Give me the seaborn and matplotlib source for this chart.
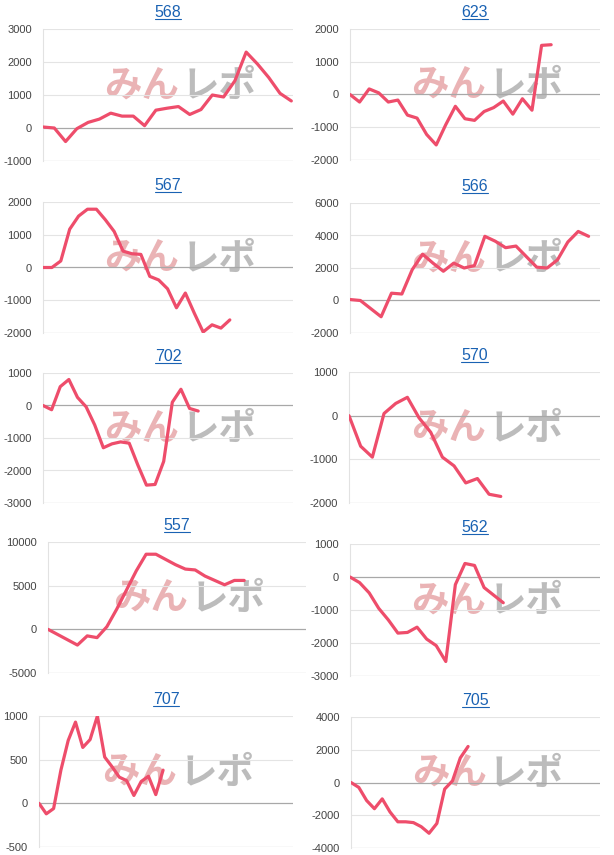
import matplotlib
matplotlib.use("Agg")
import matplotlib.pyplot as plt
import seaborn as sns
import pandas as pd
import numpy as np
from matplotlib.lines import Line2D

sns.set_style("white")
plt.rcParams['font.family'] = ['Liberation Sans', 'DejaVu Sans']

# ---- data ----
titles = ["568", "623", "567", "566", "702", "570", "557", "562", "707", "705"]

s568 = [30, 0, -410, -20, 170, 270, 450, 360, 360, 70, 540, 600, 650, 410, 560, 1000, 940, 1430, 2300, 1940, 1530, 1050, 820]
s623 = [0, -230, 170, 50, -230, -170, -630, -720, -1220, -1540, -920, -360, -740, -790, -520, -400, -200, -600, -130, -480, 1500, 1520]
s567 = [0, 0, 200, 1170, 1570, 1780, 1780, 1460, 1100, 500, 420, 400, -270, -380, -650, -1230, -780, -1390, -1970, -1750, -1850, -1600]
s566 = [60, 0, -500, -1000, 450, 400, 1900, 2850, 2300, 1800, 2300, 2000, 2150, 3950, 3650, 3250, 3350, 2700, 2050, 2000, 2500, 3600, 4250, 3950]
s702 = [0, -130, 580, 800, 250, -40, -600, -1300, -1180, -1120, -1160, -1830, -2450, -2430, -1720, 100, 500, -90, -170]
s570 = [0, -700, -950, 50, 280, 420, -50, -380, -950, -1150, -1540, -1440, -1800, -1850]
s557 = [0, -600, -1200, -1800, -750, -950, 300, 2300, 4500, 6700, 8600, 8600, 8000, 7400, 6900, 6800, 6100, 5600, 5100, 5600, 5600]
s562 = [0, -170, -480, -950, -1300, -1700, -1680, -1520, -1880, -2080, -2560, -230, 410, 350, -320, -550, -780]
s707 = [0, -120, -60, 380, 720, 930, 640, 730, 1000, 530, 420, 300, 260, 90, 250, 310, 100, 380]
s705 = [0, -300, -1100, -1600, -1000, -1800, -2400, -2400, -2450, -2700, -3100, -2500, -400, 100, 1500, 2200]

series = [s568, s623, s567, s566, s702, s570, s557, s562, s707, s705]
y_ticks = [
    [-1000, 0, 1000, 2000, 3000],
    [-2000, -1000, 0, 1000, 2000],
    [-2000, -1000, 0, 1000, 2000],
    [-2000, 0, 2000, 4000, 6000],
    [-3000, -2000, -1000, 0, 1000],
    [-2000, -1000, 0, 1000],
    [-5000, 0, 5000, 10000],
    [-3000, -2000, -1000, 0, 1000],
    [-500, 0, 500, 1000],
    [-4000, -2000, 0, 2000, 4000],
]
x_max = [22.15, 26.1, 28.1, 24.1, 29.0, 21.5, 26.3, 26.1, 34.8, 31.9]

# ---- layout (pixel boxes: left, top, right, bottom) ----
W, H = 614, 855
boxes = [
    (43, 29, 293, 161), (350, 29, 600, 160),
    (43, 202, 293, 333), (350, 203, 600, 333),
    (43, 373, 293, 503), (349, 372, 600, 503),
    (48, 542, 306, 673), (350, 544, 600, 676),
    (39, 716, 293, 847), (351, 717, 600, 848),
]

LINE = "#ee4d6b"
TITLE_C = "#1a62b3"
CJK = ["Noto Sans CJK JP", "DejaVu Sans"]

fig = plt.figure(figsize=(W / 100, H / 100), dpi=100)
title_objs = []
for i, (t, s, yt, xm, b) in enumerate(zip(titles, series, y_ticks, x_max, boxes)):
    l, tp, r, bt = b
    ax = fig.add_axes([l / W, 1 - bt / H, (r - l) / W, (bt - tp) / H])
    df = pd.DataFrame({"x": np.arange(len(s)), "y": s})
    sns.lineplot(data=df, x="x", y="y", ax=ax, color=LINE, linewidth=2.3, zorder=3)
    ax.set_xlim(0, xm)
    ax.set_ylim(yt[0], yt[-1])
    ax.set_yticks(yt)
    ax.set_yticklabels([str(v) for v in yt])
    ax.set_xticks([])
    ax.set_xlabel("")
    ax.set_ylabel("")
    ax.tick_params(axis="y", length=0, pad=8, labelsize=8, labelcolor="#444444")
    for v in yt:
        if v == 0:
            ax.axhline(v, color="#a8a8a8", lw=0.9, zorder=1)
        elif v == yt[0]:
            ax.axhline(v, color="#cfcfcf", lw=0.9, zorder=1)
        else:
            ax.axhline(v, color="#e4e4e4", lw=0.8, zorder=1)
    for sp in ["top", "right", "bottom"]:
        ax.spines[sp].set_visible(False)
    ax.spines["left"].set_color("#e2e2e2")
    ax.spines["left"].set_linewidth(0.8)
    ax.set_facecolor("none")
    # watermark
    ax.text(0.545, 0.57, "みん", transform=ax.transAxes, ha="right", va="center",
            fontsize=27, fontweight="bold", color="#eab3b5",
            family=CJK, zorder=0.5)
    ax.text(0.555, 0.57, "レポ", transform=ax.transAxes, ha="left", va="center",
            fontsize=27, fontweight="bold", color="#bcbcbc",
            family=CJK, zorder=0.5)
    ttl = ax.set_title(t, fontsize=11.5, color=TITLE_C, pad=8.5)
    title_objs.append(ttl)

fig.canvas.draw()
for ttl in title_objs:
    bb = ttl.get_window_extent()
    y = bb.y0 + 1.5
    fig.add_artist(Line2D([bb.x0 / W, bb.x1 / W], [y / H, y / H],
                          transform=fig.transFigure, color=TITLE_C, lw=0.8))

fig.savefig("out.png", dpi=100)
